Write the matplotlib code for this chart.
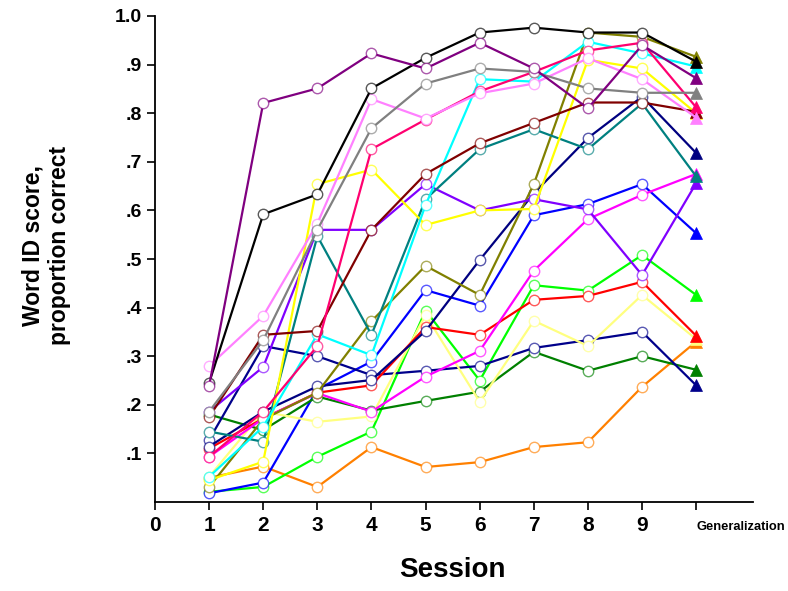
import matplotlib
matplotlib.use("Agg")
import matplotlib.pyplot as plt
from matplotlib.colors import to_rgba

plt.rcParams['font.family'] = ['Liberation Sans', 'DejaVu Sans']

sessions = [1, 2, 3, 4, 5, 6, 7, 8, 9, 10]
tick_positions = [0, 1, 2, 3, 4, 5, 6, 7, 8, 9, 10]
tick_labels = ["0", "1", "2", "3", "4", "5", "6", "7", "8", "9", "Generalization"]
y_ticks = [0.1, 0.2, 0.3, 0.4, 0.5, 0.6, 0.7, 0.8, 0.9, 1.0]
y_tick_labels = [".1", ".2", ".3", ".4", ".5", ".6", ".7", ".8", ".9", "1.0"]

orange = [0.050, 0.073, 0.031, 0.113, 0.072, 0.082, 0.113, 0.123, 0.237, 0.330]
green = [0.021, 0.031, 0.093, 0.145, 0.394, 0.250, 0.446, 0.435, 0.508, 0.426]
blue = [0.018, 0.040, 0.232, 0.289, 0.436, 0.404, 0.590, 0.613, 0.654, 0.553]
dark_green = [0.180, 0.148, 0.217, 0.188, 0.208, 0.227, 0.309, 0.270, 0.300, 0.272]
navy_low = [0.128, 0.321, 0.300, 0.261, 0.270, 0.280, 0.317, 0.333, 0.350, 0.240]
light_yellow = [0.052, 0.186, 0.165, 0.176, 0.385, 0.206, 0.373, 0.321, 0.426, 0.335]
red = [0.110, 0.172, 0.225, 0.240, 0.360, 0.344, 0.416, 0.424, 0.453, 0.342]
magenta = [0.093, 0.172, 0.224, 0.186, 0.258, 0.311, 0.476, 0.582, 0.632, 0.675]
navy = [0.114, 0.186, 0.238, 0.251, 0.352, 0.498, 0.635, 0.749, 0.834, 0.718]
olive = [0.031, 0.170, 0.225, 0.372, 0.486, 0.426, 0.654, 0.966, 0.957, 0.916]
violet = [0.186, 0.278, 0.560, 0.560, 0.654, 0.600, 0.623, 0.602, 0.467, 0.656]
teal = [0.145, 0.124, 0.547, 0.344, 0.623, 0.726, 0.767, 0.726, 0.820, 0.670]
yellow = [0.045, 0.083, 0.654, 0.684, 0.570, 0.600, 0.603, 0.910, 0.892, 0.800]
cyan = [0.052, 0.155, 0.345, 0.302, 0.611, 0.870, 0.865, 0.947, 0.923, 0.896]
maroon = [0.175, 0.344, 0.352, 0.560, 0.675, 0.738, 0.780, 0.822, 0.822, 0.803]
deep_pink = [0.093, 0.186, 0.321, 0.726, 0.787, 0.845, 0.885, 0.929, 0.945, 0.812]
violet_pink = [0.280, 0.383, 0.573, 0.829, 0.789, 0.841, 0.861, 0.913, 0.870, 0.791]
gray = [0.186, 0.333, 0.560, 0.769, 0.861, 0.892, 0.885, 0.851, 0.842, 0.842]
black = [0.245, 0.592, 0.633, 0.851, 0.914, 0.966, 0.976, 0.966, 0.966, 0.906]
purple = [0.239, 0.821, 0.851, 0.923, 0.892, 0.945, 0.892, 0.810, 0.940, 0.872]

series = [
    (orange, '#FF8000'),
    (green, '#00FF00'),
    (blue, '#0000FF'),
    (dark_green, '#008000'),
    (navy_low, '#00008B'),
    (light_yellow, '#FFFF80'),
    (red, '#FF0000'),
    (magenta, '#FF00FF'),
    (navy, '#000080'),
    (olive, '#808000'),
    (violet, '#8000FF'),
    (teal, '#008080'),
    (yellow, '#FFFF00'),
    (cyan, '#00FFFF'),
    (maroon, '#800000'),
    (deep_pink, '#FF0070'),
    (violet_pink, '#FF80FF'),
    (gray, '#808080'),
    (black, '#000000'),
    (purple, '#800080'),
]

fig = plt.figure(figsize=(7.88, 5.91), dpi=100)
ax = fig.add_axes([155 / 788, 1 - 502 / 591, 598 / 788, 486 / 591])

for vals, col in series:
    ax.plot(sessions, vals, color=col, lw=1.6, solid_joinstyle='round')
    ax.plot(sessions[:-1], vals[:-1], ls='none', marker='o', ms=7.5,
            mfc='white', mec=to_rgba(col, 0.65), mew=1.0)
    ax.plot(sessions[-1:], vals[-1:], ls='none', marker='^', ms=8.5,
            mfc=col, mec=col, mew=0.5)

ax.set_xlim(0, 11.05)
ax.set_ylim(0, 1.0)
ax.set_xticks(tick_positions)
ax.set_xticklabels(tick_labels, fontsize=15, fontweight='bold')
ax.set_yticks(y_ticks)
ax.set_yticklabels(y_tick_labels, fontsize=14, fontweight='bold')

for s in ['top', 'right']:
    ax.spines[s].set_visible(False)
for s in ['left', 'bottom']:
    ax.spines[s].set_linewidth(1.3)
ax.tick_params(axis='both', direction='out', length=6, width=1.2)
ax.tick_params(axis='x', pad=4)

gen_tick = ax.xaxis.get_major_ticks()[-1]
gen_tick.set_pad(8)
gen = ax.get_xticklabels()[-1]
gen.set_fontsize(9.3)
gen.set_ha('left')

ax.set_xlabel("Session", fontsize=20, fontweight='bold')
ax.xaxis.set_label_coords((452 - 155) / 598, -(570 - 502) / 486)
ax.set_ylabel("Word ID score,\nproportion correct", fontsize=16.5, fontweight='bold')
ax.yaxis.set_label_coords((46 - 155) / 598, (502 - 245) / 486)
ax.yaxis.label.set_va('center')
ax.xaxis.label.set_va('center')

fig.savefig("out.png", dpi=100, facecolor='white')
